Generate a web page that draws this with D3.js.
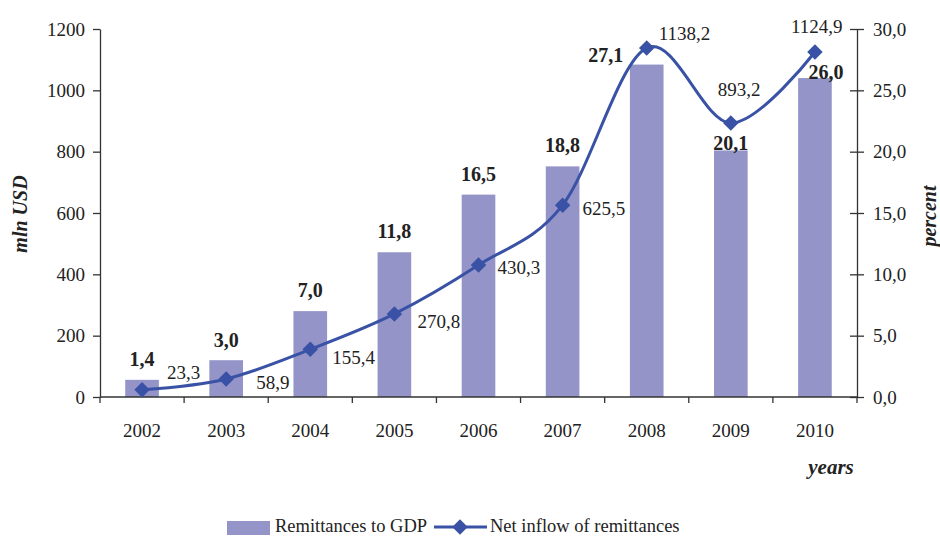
<!DOCTYPE html>
<html>
<head>
    <meta charset="utf-8">
    <title>Remittances</title>
    <script src="https://d3js.org/d3.v7.min.js"></script>
    <style>
        body { margin: 0; background: #fff; }
        text { font-family: "Liberation Serif", "Times New Roman", serif; fill: #222; }
        .axis path, .axis line { stroke: #333; stroke-width: 1.3; }
        .axis text { font-size: 19px; font-family: "Liberation Serif", serif; fill: #222; }
    </style>
</head>
<body>
    <svg id="chart" width="940" height="537"></svg>

    <script>
        // data
        const years = ['2002', '2003', '2004', '2005', '2006', '2007', '2008', '2009', '2010'];
        const remitToGdp = [1.4, 3.0, 7.0, 11.8, 16.5, 18.8, 27.1, 20.1, 26.0];   // percent, right axis
        const netInflow = [23.3, 58.9, 155.4, 270.8, 430.3, 625.5, 1138.2, 893.2, 1124.9]; // mln USD, left axis
        const leftTicks = [0, 200, 400, 600, 800, 1000, 1200];
        const rightTicks = [0, 5, 10, 15, 20, 25, 30];

        // label nudges (layout only, pixels)
        const barLabelShift = [[0, -21], [0, -20], [0, -21], [0, -21], [0, -21], [0, -21], [-41, -10], [0, -7], [11, -6]];
        const lineLabelShift = [[25, -18], [30, 3], [22, 8], [23, 7], [19, 2], [20, 3], [12, -15], [-13, -34], [-24, -26]];

        const fmt1 = d => d.toFixed(1).replace('.', ',');

        const svg = d3.select('#chart');
        const plotL = 100, plotR = 857, plotT = 29, plotB = 397;

        const x = d3.scaleBand().domain(years).range([plotL, plotR]).paddingInner(0.6).paddingOuter(0.3);
        const xStep = d3.scaleBand().domain(years).range([plotL, plotR]);
        const yLeft = d3.scaleLinear().domain([0, 1200]).range([plotB, plotT]);
        const yRight = d3.scaleLinear().domain([0, 30]).range([plotB, plotT]);
        const cx = d => xStep(d) + xStep.bandwidth() / 2;

        // bars
        svg.append('g').selectAll('rect')
            .data(years)
            .enter()
            .append('rect')
            .attr('x', d => cx(d) - x.bandwidth() / 2)
            .attr('width', x.bandwidth())
            .attr('y', (d, i) => yRight(remitToGdp[i]))
            .attr('height', (d, i) => plotB - yRight(remitToGdp[i]))
            .attr('fill', '#9494c8');

        // axes
        svg.append('g').attr('class', 'axis')
            .attr('transform', 'translate(' + plotL + ',0)')
            .call(d3.axisLeft(yLeft).tickValues(leftTicks).tickFormat(d3.format('d')).tickSize(7).tickSizeOuter(0).tickPadding(8))
            .attr('font-family', 'Liberation Serif').attr('font-size', 19);

        const gr = svg.append('g').attr('class', 'axis')
            .attr('transform', 'translate(' + plotR + ',0)')
            .call(d3.axisRight(yRight).tickValues(rightTicks).tickFormat(fmt1).tickSize(7).tickSizeOuter(0).tickPadding(9))
            .attr('font-family', 'Liberation Serif').attr('font-size', 19);
        gr.selectAll('.tick line').attr('x1', -7);

        // x axis with ticks between categories
        const gx = svg.append('g').attr('class', 'axis')
            .attr('transform', 'translate(0,' + plotB + ')');
        gx.append('line').attr('x1', plotL).attr('x2', plotR);
        gx.selectAll('line.sep')
            .data(years.concat(['end']))
            .enter()
            .append('line')
            .attr('class', 'sep')
            .attr('x1', (d, i) => i < years.length ? xStep(d) : plotR)
            .attr('x2', (d, i) => i < years.length ? xStep(d) : plotR)
            .attr('y1', 0).attr('y2', 6);
        gx.selectAll('text')
            .data(years)
            .enter()
            .append('text')
            .attr('x', d => cx(d))
            .attr('y', 40)
            .attr('text-anchor', 'middle')
            .text(d => d);

        // smoothed line
        const line = d3.line()
            .x((d, i) => cx(years[i]))
            .y(d => yLeft(d))
            .curve(d3.curveCardinal.tension(0));

        svg.append('path')
            .datum(netInflow)
            .attr('d', line)
            .attr('fill', 'none')
            .attr('stroke', '#3a52a5')
            .attr('stroke-width', 3);

        svg.append('g').selectAll('path')
            .data(netInflow)
            .enter()
            .append('path')
            .attr('d', d3.symbol().type(d3.symbolSquare).size(120))
            .attr('transform', (d, i) => 'translate(' + cx(years[i]) + ',' + yLeft(d) + ') rotate(45)')
            .attr('fill', '#3a52a5');

        // bar labels
        svg.append('g').selectAll('text')
            .data(remitToGdp)
            .enter()
            .append('text')
            .attr('x', (d, i) => cx(years[i]) + barLabelShift[i][0])
            .attr('y', (d, i) => yRight(d) + barLabelShift[i][1])
            .attr('text-anchor', 'middle')
            .attr('dy', '0.35em')
            .style('font-size', '20px')
            .style('font-weight', 'bold')
            .text(fmt1);

        // line labels
        svg.append('g').selectAll('text')
            .data(netInflow)
            .enter()
            .append('text')
            .attr('x', (d, i) => cx(years[i]) + lineLabelShift[i][0])
            .attr('y', (d, i) => yLeft(d) + lineLabelShift[i][1])
            .attr('dy', '0.35em')
            .style('font-size', '19px')
            .text(fmt1);

        // axis titles
        svg.append('text')
            .attr('transform', 'translate(27,214) rotate(-90)')
            .attr('text-anchor', 'middle')
            .style('font-size', '20px').style('font-weight', 'bold').style('font-style', 'italic')
            .text('mln USD');

        svg.append('text')
            .attr('transform', 'translate(936,216) rotate(-90)')
            .attr('text-anchor', 'middle')
            .style('font-size', '20px').style('font-weight', 'bold').style('font-style', 'italic')
            .text('percent');

        svg.append('text')
            .attr('x', 831).attr('y', 474)
            .attr('text-anchor', 'middle')
            .style('font-size', '21px').style('font-weight', 'bold').style('font-style', 'italic')
            .text('years');

        // legend
        const lg = svg.append('g');
        lg.append('rect').attr('x', 227).attr('y', 521).attr('width', 43).attr('height', 14).attr('fill', '#9494c8');
        lg.append('text').attr('x', 275).attr('y', 532).style('font-size', '18.5px').text('Remittances to GDP');
        lg.append('line').attr('x1', 434).attr('x2', 487).attr('y1', 527).attr('y2', 527)
            .attr('stroke', '#3a52a5').attr('stroke-width', 3);
        lg.append('path')
            .attr('d', d3.symbol().type(d3.symbolSquare).size(120))
            .attr('transform', 'translate(460,527) rotate(45)')
            .attr('fill', '#3a52a5');
        lg.append('text').attr('x', 490).attr('y', 532).style('font-size', '18.5px').text('Net inflow of remittances');
    </script>
</body>
</html>
